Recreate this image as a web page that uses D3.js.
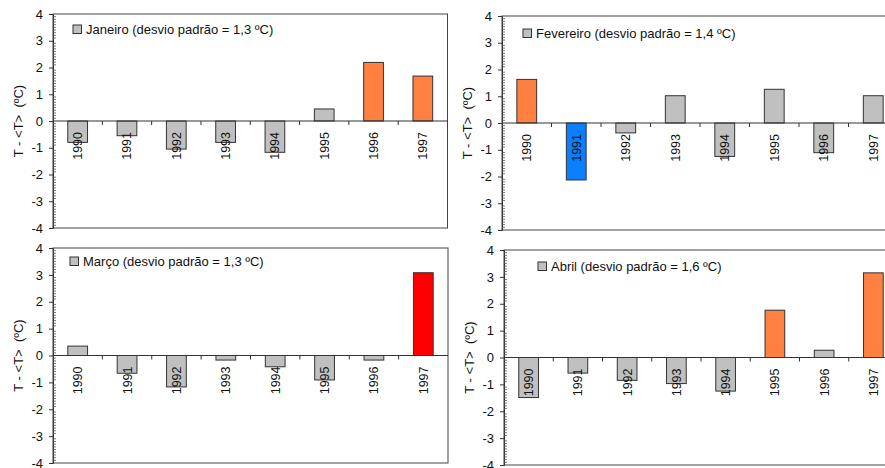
<!DOCTYPE html>
<html>
<head>
<meta charset="utf-8">
<script src="https://cdn.jsdelivr.net/npm/d3@7"></script>
<style>
  body { margin: 0; background: #fff; }
  svg { display: block; }
  text { font-family: "Liberation Sans", Arial, sans-serif; fill: #111; }
</style>
</head>
<body>
<svg id="chart" width="885" height="468"></svg>
<script>
// Monthly temperature anomalies T - <T> (ºC), 1990–1997
const years = ["1990", "1991", "1992", "1993", "1994", "1995", "1996", "1997"];
const months = ["Janeiro", "Fevereiro", "Março", "Abril"];
const stdDevLabels = ["1,3", "1,4", "1,3", "1,6"];
const stdDev = [1.3, 1.4, 1.3, 1.6];

const janeiro   = [-0.80, -0.55, -1.05, -0.80, -1.17, 0.45, 2.19, 1.68];
const fevereiro = [1.63, -2.13, -0.37, 1.02, -1.25, 1.26, -1.11, 1.02];
const marco     = [0.35, -0.66, -1.17, -0.17, -0.42, -0.91, -0.17, 3.08];
const abril     = [-1.49, -0.58, -0.85, -0.97, -1.25, 1.76, 0.27, 3.15];

const yTicks = [4, 3, 2, 1, 0, -1, -2, -3, -4];
const yTickLabels = ["4", "3", "2", "1", "0", "-1", "-2", "-3", "-4"];
const yTitle = "T - <T>  (ºC)";

const series = [janeiro, fevereiro, marco, abril];

// Panel placement (plot area of each small chart)
const panels = [
  { left: 53,  right: 447.5, top: 14,  bottom: 228, legendX: 73,  legendY: 29 },
  { left: 502, right: 898,   top: 16,  bottom: 230, legendX: 523, legendY: 33 },
  { left: 53,  right: 448,   top: 248, bottom: 463, legendX: 70,  legendY: 261 },
  { left: 504, right: 898,   top: 250, bottom: 465, legendX: 538, legendY: 266 }
];

// Bar colour from the anomaly measured in standard deviations
function barColor(v, sd) {
  if (v > 2 * sd) return "#ff0000";
  if (v > sd) return "#ff8040";
  if (v < -sd) return "#0a80ff";
  return "#c0c0c0";
}

const svg = d3.select("#chart");

panels.forEach((p, i) => {
  const values = series[i];
  const g = svg.append("g");

  const x = d3.scaleBand().domain(years).range([p.left, p.right]).padding(0);
  const y = d3.scaleLinear().domain([-4, 4]).range([p.bottom, p.top]);
  const bw = x.bandwidth() * 0.4;

  // frame
  g.append("rect")
    .attr("x", p.left).attr("y", p.top)
    .attr("width", p.right - p.left).attr("height", p.bottom - p.top)
    .attr("fill", "none").attr("stroke", "#444").attr("stroke-width", 1);

  // bars
  g.selectAll("rect.bar").data(values).join("rect")
    .attr("class", "bar")
    .attr("x", (d, j) => x(years[j]) + (x.bandwidth() - bw) / 2)
    .attr("y", d => y(Math.max(0, d)))
    .attr("width", bw)
    .attr("height", d => Math.abs(y(d) - y(0)))
    .attr("fill", d => barColor(d, stdDev[i]))
    .attr("stroke", "#333").attr("stroke-width", 1);

  // zero line
  g.append("line")
    .attr("x1", p.left).attr("x2", p.right)
    .attr("y1", y(0)).attr("y2", y(0))
    .attr("stroke", "#333").attr("stroke-width", 1);

  // ticks between categories on the zero line
  g.selectAll("line.xt").data(years.slice(1)).join("line")
    .attr("class", "xt")
    .attr("x1", d => x(d)).attr("x2", d => x(d))
    .attr("y1", y(0)).attr("y2", y(0) + 4)
    .attr("stroke", "#333");

  // year labels, rotated, just under the zero line
  g.selectAll("text.yr").data(years).join("text")
    .attr("class", "yr")
    .attr("transform", d => `translate(${x(d) + x.bandwidth() / 2 + 4.5},${y(0) + 11}) rotate(-90)`)
    .attr("text-anchor", "end")
    .attr("font-size", 12.5)
    .text(d => d);

  // y axis with minor ticks
  const yAxis = d3.axisLeft(y).tickValues(yTicks).tickSize(4).tickPadding(6)
    .tickFormat((d, k) => yTickLabels[k]);
  const ax = g.append("g").attr("transform", `translate(${p.left},0)`).call(yAxis);
  ax.select(".domain").attr("stroke", "#333");
  ax.selectAll(".tick line").attr("stroke", "#333");
  ax.selectAll(".tick text").attr("font-size", 13).attr("fill", "#000")
    .attr("font-family", '"Liberation Sans", Arial, sans-serif');

  const minor = d3.range(-40, 41).map(k => k / 10).filter(v => Math.abs(v - Math.round(v)) > 1e-6);
  g.selectAll("line.minor").data(minor).join("line")
    .attr("class", "minor")
    .attr("x1", p.left).attr("x2", p.left + 3)
    .attr("y1", d => y(d)).attr("y2", d => y(d))
    .attr("stroke", "#555").attr("stroke-width", 0.8);

  // y axis title
  g.append("text")
    .attr("transform", `translate(${p.left - 30},${y(0)}) rotate(-90)`)
    .attr("text-anchor", "middle")
    .attr("font-size", 13)
    .style("white-space", "pre")
    .text(yTitle);

  // legend
  g.append("rect")
    .attr("x", p.legendX).attr("y", p.legendY - 4)
    .attr("width", 8.5).attr("height", 8.5)
    .attr("fill", "#c0c0c0").attr("stroke", "#333");
  g.append("text")
    .attr("x", p.legendX + 13).attr("y", p.legendY + 4.5)
    .attr("font-size", 13)
    .text(`${months[i]} (desvio padrão = ${stdDevLabels[i]} ºC)`);
});
</script>
</body>
</html>
